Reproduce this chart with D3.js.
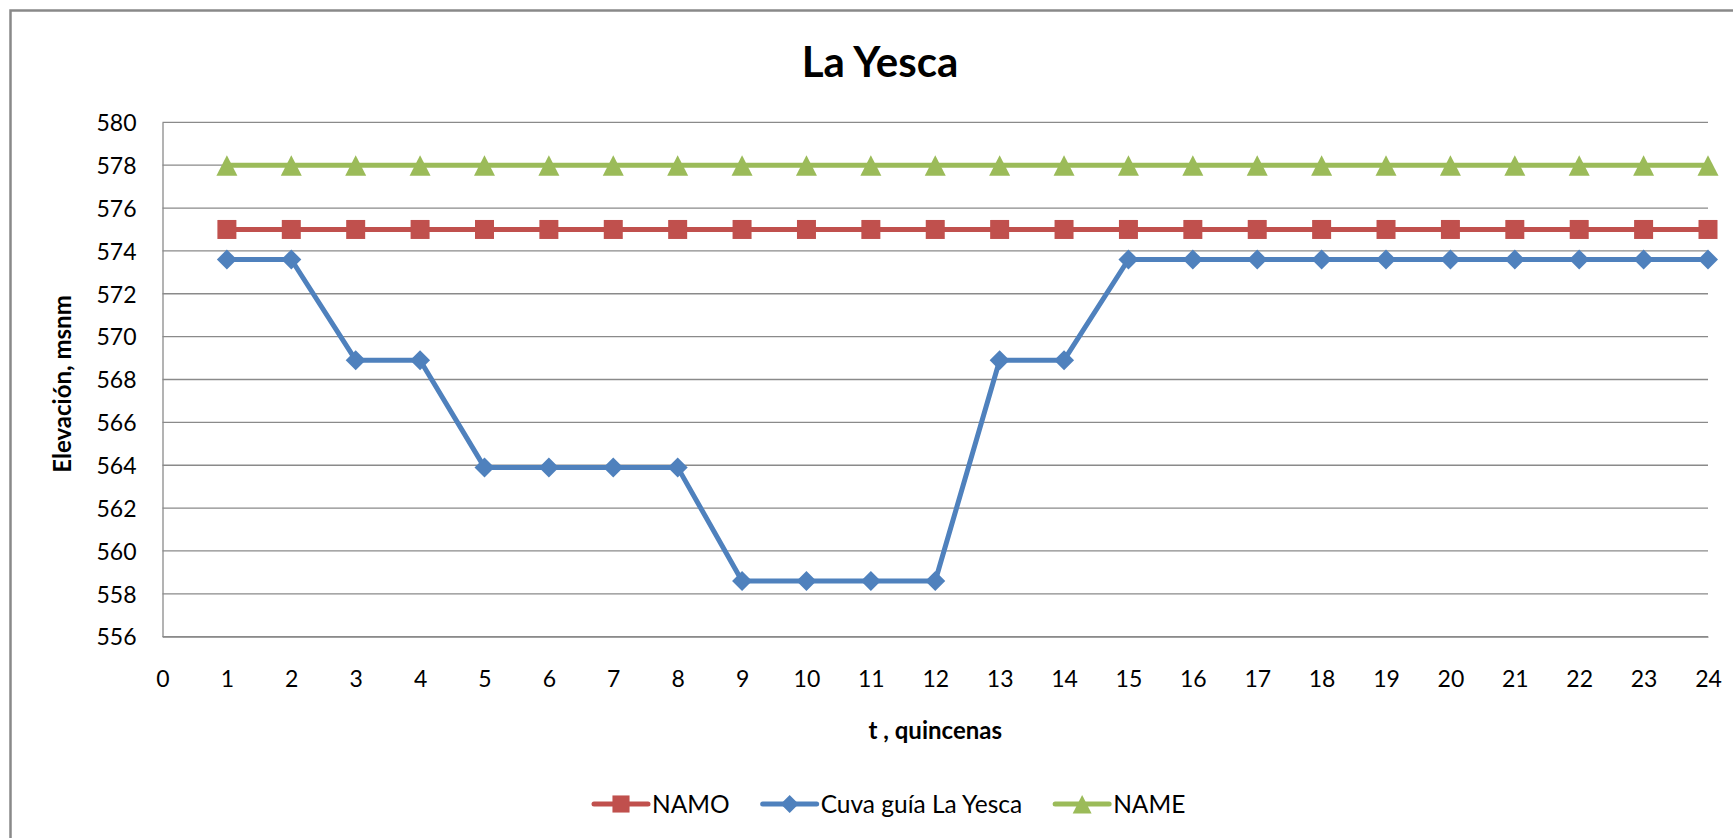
<!DOCTYPE html>
<html>
<head>
<meta charset="utf-8">
<script src="https://cdn.jsdelivr.net/npm/d3@7"></script>
<style>
  html, body { margin: 0; padding: 0; background: #ffffff; }
  svg { display: block; }
  text { font-family: Lato, "Open Sans", "Liberation Sans", sans-serif; fill: #000; }
</style>
</head>
<body>
<svg id="chart" width="1733" height="838"></svg>
<script>
// ---- data ----
const quincenas = [1, 2, 3, 4, 5, 6, 7, 8, 9, 10, 11, 12, 13, 14, 15, 16, 17, 18, 19, 20, 21, 22, 23, 24];
const namo = [575, 575, 575, 575, 575, 575, 575, 575, 575, 575, 575, 575, 575, 575, 575, 575, 575, 575, 575, 575, 575, 575, 575, 575];
const cuvaGuia = [573.6, 573.6, 568.9, 568.9, 563.9, 563.9, 563.9, 563.9, 558.6, 558.6, 558.6, 558.6, 568.9, 568.9, 573.6, 573.6, 573.6, 573.6, 573.6, 573.6, 573.6, 573.6, 573.6, 573.6];
const name = [578, 578, 578, 578, 578, 578, 578, 578, 578, 578, 578, 578, 578, 578, 578, 578, 578, 578, 578, 578, 578, 578, 578, 578];
const yTicks = [556, 558, 560, 562, 564, 566, 568, 570, 572, 574, 576, 578, 580];
const xTicks = [0, 1, 2, 3, 4, 5, 6, 7, 8, 9, 10, 11, 12, 13, 14, 15, 16, 17, 18, 19, 20, 21, 22, 23, 24];
const seriesNames = ["NAMO", "Cuva guía La Yesca", "NAME"];
const title = "La Yesca";
const xTitle = "t , quincenas";
const yTitle = "Elevación, msnm";

// ---- layout ----
const svg = d3.select("#chart");
const plot = { left: 162.5, right: 1708, top: 122.3, bottom: 636.7 };
const colors = ["#C0504D", "#4F81BD", "#9BBB59"];
const markerTypes = ["square", "diamond", "triangle"];
const seriesData = [namo, cuvaGuia, name];

const x = d3.scaleLinear().domain([0, 24]).range([plot.left, plot.right]);
const y = d3.scaleLinear().domain([556, 580]).range([plot.bottom, plot.top]);

// outer chart border (cropped at right / bottom)
svg.append("rect")
  .attr("x", 10.5).attr("y", 10.5)
  .attr("width", 1800).attr("height", 900)
  .attr("fill", "#fff")
  .attr("stroke", "#898989").attr("stroke-width", 2.5);

// gridlines
svg.append("g")
  .selectAll("line")
  .data(yTicks)
  .join("line")
  .attr("x1", plot.left).attr("x2", plot.right)
  .attr("y1", d => y(d)).attr("y2", d => y(d))
  .attr("stroke", "#8a8a8a").attr("stroke-width", 1.3);

// y axis
const yAxis = d3.axisLeft(y).tickValues(yTicks).tickSize(0).tickPadding(26).tickFormat(d3.format("d"));
const gy = svg.append("g").attr("transform", `translate(${plot.left},0)`).call(yAxis);
gy.select(".domain").attr("stroke", "#8a8a8a").attr("stroke-width", 1.3);
gy.selectAll("text")
  .style("font-family", "Lato, 'Open Sans', sans-serif")
  .style("font-size", "23px").attr("fill", "#262626")
  .attr("dy", "0.36em");

// x axis
const xAxis = d3.axisBottom(x).tickValues(xTicks).tickSize(0).tickPadding(34).tickFormat(d3.format("d"));
const gx = svg.append("g").attr("transform", `translate(0,${plot.bottom})`).call(xAxis);
gx.select(".domain").attr("stroke", "#8a8a8a").attr("stroke-width", 1.3);
gx.selectAll("text")
  .style("font-family", "Lato, 'Open Sans', sans-serif")
  .style("font-size", "23px").attr("fill", "#262626");

// marker paths
function markerPath(type, s) {
  if (type === "square") {
    const h = 9.5 * s;
    return `M${-h},${-h}H${h}V${h}H${-h}Z`;
  } else if (type === "diamond") {
    const h = 10 * s;
    return `M0,${-h}L${h},0L0,${h}L${-h},0Z`;
  } else {
    const w = 10.5 * s, t = 10 * s, b = 10.5 * s;
    return `M0,${-t}L${w},${b}L${-w},${b}Z`;
  }
}

const line = d3.line().x((d, i) => x(quincenas[i])).y(d => y(d));

seriesData.forEach((vals, si) => {
  const g = svg.append("g");
  g.append("path")
    .datum(vals)
    .attr("d", line)
    .attr("fill", "none")
    .attr("stroke", colors[si])
    .attr("stroke-width", 5)
    .attr("stroke-linejoin", "round")
    .attr("stroke-linecap", "round");
  g.selectAll("path.m")
    .data(vals)
    .join("path")
    .attr("class", "m")
    .attr("transform", (d, i) => `translate(${x(quincenas[i])},${y(d)})`)
    .attr("d", markerPath(markerTypes[si], 1))
    .attr("fill", colors[si]);
});

// title
svg.append("text")
  .attr("x", 880).attr("y", 77)
  .attr("text-anchor", "middle")
  .style("font-size", "42px").style("font-weight", "bold")
  .text(title);

// x title
svg.append("text")
  .attr("x", (plot.left + plot.right) / 2).attr("y", 739)
  .attr("text-anchor", "middle")
  .style("font-size", "24px").style("font-weight", "bold")
  .text(xTitle);

// y title
svg.append("text")
  .attr("transform", `translate(71,384) rotate(-90)`)
  .attr("text-anchor", "middle")
  .style("font-size", "24px").style("font-weight", "bold")
  .text(yTitle);

// legend
const legend = svg.append("g");
let lx = 594;
const ly = 804;
seriesNames.forEach((nm, si) => {
  const item = legend.append("g");
  item.append("line")
    .attr("x1", lx).attr("x2", lx + 54)
    .attr("y1", ly).attr("y2", ly)
    .attr("stroke", colors[si]).attr("stroke-width", 5).attr("stroke-linecap", "round");
  item.append("path")
    .attr("transform", `translate(${lx + 27},${ly})`)
    .attr("d", markerPath(markerTypes[si], 0.9))
    .attr("fill", colors[si]);
  const t = item.append("text")
    .attr("x", lx + 58).attr("y", ly + 8.5)
    .style("font-size", "24.5px").attr("fill", "#262626")
    .text(nm);
  const w = t.node().getComputedTextLength();
  lx = lx + 58 + w + 33;
});
</script>
</body>
</html>
